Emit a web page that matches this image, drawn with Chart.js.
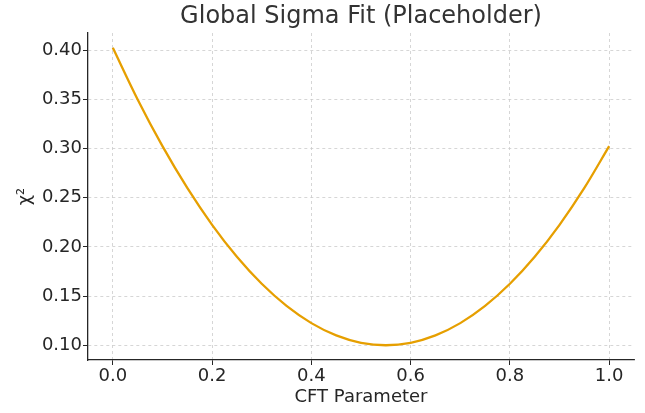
<!DOCTYPE html>
<html>
<head>
<meta charset="utf-8">
<script src="https://cdn.jsdelivr.net/npm/chart.js@4"></script>
<style>
  html, body { margin: 0; padding: 0; background: #fff; }
  #wrap { width: 645px; height: 413px; }
</style>
</head>
<body>
<div id="wrap"><canvas id="fitChart" width="645" height="413"></canvas></div>
<script>
// values
const cftParam = [0.00, 0.05, 0.10, 0.15, 0.20, 0.25, 0.30, 0.35, 0.40, 0.45, 0.50,
                  0.55, 0.60, 0.65, 0.70, 0.75, 0.80, 0.85, 0.90, 0.95, 1.00];
const chiSq = [0.4025, 0.3500, 0.3025, 0.2600, 0.2225, 0.1900, 0.1625, 0.1400, 0.1225, 0.1100, 0.1025,
               0.1000, 0.1025, 0.1100, 0.1225, 0.1400, 0.1625, 0.1900, 0.2225, 0.2600, 0.3025];
const xTicks = [0.0, 0.2, 0.4, 0.6, 0.8, 1.0];
const yTicks = [0.10, 0.15, 0.20, 0.25, 0.30, 0.35, 0.40];

const points = cftParam.map((x, i) => ({ x, y: chiSq[i] }));
const font = 'DejaVu Sans';
const ink = '#262626';

new Chart(document.getElementById('fitChart'), {
  type: 'line',
  data: {
    datasets: [{
      data: points,
      borderColor: '#E69F00',
      borderWidth: 2.3,
      pointRadius: 0,
      cubicInterpolationMode: 'monotone',
      fill: false
    }]
  },
  options: {
    responsive: false,
    animation: false,
    layout: { padding: { left: 0, right: 11, top: 0, bottom: 0 } },
    plugins: {
      legend: { display: false },
      tooltip: { enabled: false },
      title: {
        display: true,
        fullSize: false,
        text: 'Global Sigma Fit (Placeholder)',
        color: '#333333',
        font: { family: font, size: 24, weight: 'normal' },
        padding: { top: 2, bottom: 2.2 }
      }
    },
    scales: {
      x: {
        type: 'linear',
        min: -0.05,
        max: 1.05,
        afterBuildTicks: s => { s.ticks = xTicks.map(v => ({ value: v })); },
        afterFit: s => { s.height = 53; },
        ticks: {
          color: ink,
          font: { family: font, size: 18 },
          padding: 1,
          maxRotation: 0,
          callback: v => v.toFixed(1)
        },
        grid: { color: '#cccccc', lineWidth: 0.8, tickLength: 5, tickColor: ink, tickWidth: 1 },
        border: { display: true, color: ink, width: 1.3, dash: [3, 3] },
        title: {
          display: true,
          text: 'CFT Parameter',
          color: ink,
          font: { family: font, size: 18 },
          padding: { top: 0, bottom: 5 }
        }
      },
      y: {
        type: 'linear',
        min: 0.085,
        max: 0.4176,
        afterBuildTicks: s => { s.ticks = yTicks.map(v => ({ value: v })); },
        afterFit: s => { s.width = 88; },
        ticks: {
          color: ink,
          font: { family: font, size: 18 },
          padding: 1,
          callback: v => v.toFixed(2)
        },
        grid: { color: '#cccccc', lineWidth: 0.8, tickLength: 5, tickColor: ink, tickWidth: 1 },
        border: { display: true, color: ink, width: 1.3, dash: [3, 3] },
        title: {
          display: true,
          text: 'χ²',
          color: ink,
          font: { family: font, size: 18 },
          padding: { top: 15, bottom: 0 }
        }
      }
    }
  }
});
</script>
</body>
</html>
